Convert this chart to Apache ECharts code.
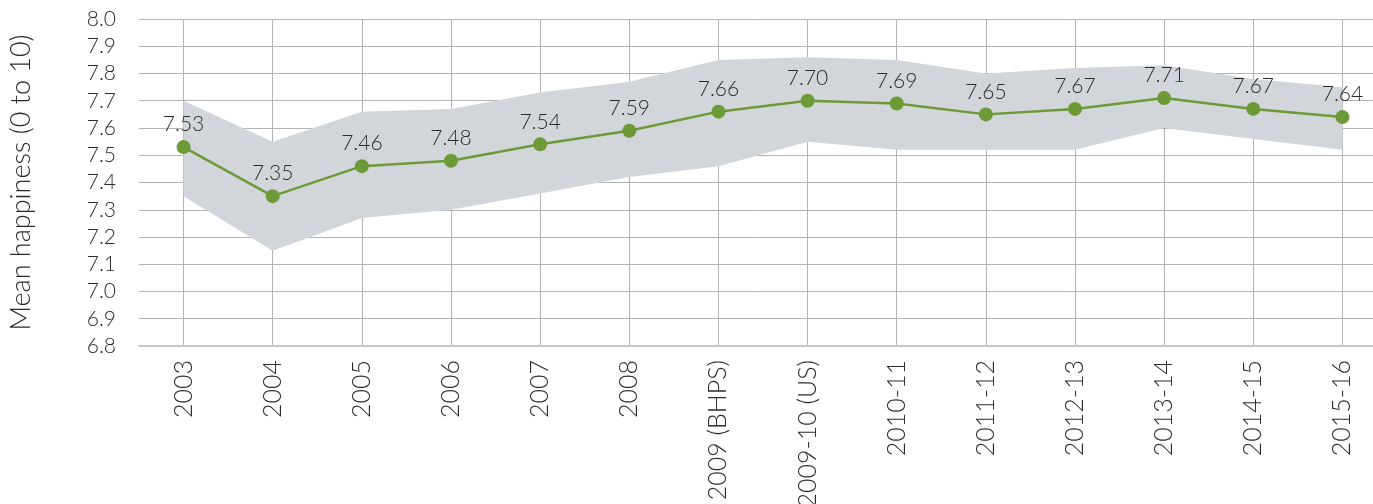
<!DOCTYPE html>
<html>
<head>
<meta charset="utf-8">
<script src="https://cdn.jsdelivr.net/npm/echarts@6/dist/echarts.min.js"></script>
<style>
  html, body { margin: 0; padding: 0; background: #fff; }
  #main { width: 1373px; height: 504px; }
</style>
</head>
<body>
<div id="main"></div>
<script>
// survey waves
var categories = ['2003', '2004', '2005', '2006', '2007', '2008', '2009 (BHPS)',
  '2009-10 (US)', '2010-11', '2011-12', '2012-13', '2013-14', '2014-15', '2015-16'];
// mean happiness
var meanValues = [7.53, 7.35, 7.46, 7.48, 7.54, 7.59, 7.66, 7.70, 7.69, 7.65, 7.67, 7.71, 7.67, 7.64];
// confidence band
var upperValues = [7.70, 7.55, 7.66, 7.67, 7.73, 7.77, 7.85, 7.86, 7.85, 7.80, 7.82, 7.83, 7.78, 7.75];
var lowerValues = [7.35, 7.15, 7.27, 7.30, 7.36, 7.42, 7.46, 7.55, 7.52, 7.52, 7.52, 7.60, 7.56, 7.52];
// y axis ticks
var yMin = 6.8, yMax = 8.0, yStep = 0.1;

var bandHeight = upperValues.map(function (u, i) { return +(u - lowerValues[i]).toFixed(3); });

var font = 'Lato, "Open Sans", sans-serif';
var textColor = '#2b2b2b';
var myChart = echarts.init(document.getElementById('main'));
myChart.setOption({
  animation: false,
  grid: { left: 139, right: -14, top: 19, bottom: 158, containLabel: false, outerBoundsMode: 'none' },
  xAxis: {
    type: 'category',
    data: categories,
    boundaryGap: true,
    axisLine: { lineStyle: { color: '#c8c8c8', width: 2 } },
    axisTick: { show: false },
    axisLabel: {
      rotate: 90, margin: 14, fontSize: 25, color: textColor, fontFamily: font, fontWeight: 300
    },
    splitLine: { show: true, alignWithLabel: true, lineStyle: { color: '#b4b4b4', width: 1 } }
  },
  yAxis: {
    type: 'value',
    min: yMin, max: yMax, interval: yStep,
    name: 'Mean happiness (0 to 10)',
    nameLocation: 'middle',
    nameGap: 104,
    nameTextStyle: { fontSize: 27, color: textColor, fontFamily: font, fontWeight: 300 },
    axisLine: { show: false },
    axisTick: { show: false },
    axisLabel: {
      margin: 23, fontSize: 21, color: textColor, fontFamily: font, fontWeight: 300,
      formatter: function (v) { return v.toFixed(1); }
    },
    splitLine: { lineStyle: { color: '#b4b4b4', width: 1 } }
  },
  series: [
    {
      name: 'lower', type: 'line', stack: 'ci', data: lowerValues,
      symbol: 'none', lineStyle: { opacity: 0 }, silent: true
    },
    {
      name: 'band', type: 'line', stack: 'ci', data: bandHeight,
      symbol: 'none', lineStyle: { opacity: 0 },
      areaStyle: { color: '#d2d6da', opacity: 1 }, silent: true
    },
    {
      name: 'Mean happiness', type: 'line', data: meanValues,
      symbol: 'circle', symbolSize: 14,
      itemStyle: { color: '#6b9a37' },
      lineStyle: { color: '#6b9a37', width: 2.5 },
      label: {
        show: true, position: 'top', distance: 5,
        fontSize: 21, color: textColor, fontFamily: font, fontWeight: 300,
        formatter: function (p) { return p.value.toFixed(2); }
      },
      z: 5
    }
  ]
});
</script>
</body>
</html>
